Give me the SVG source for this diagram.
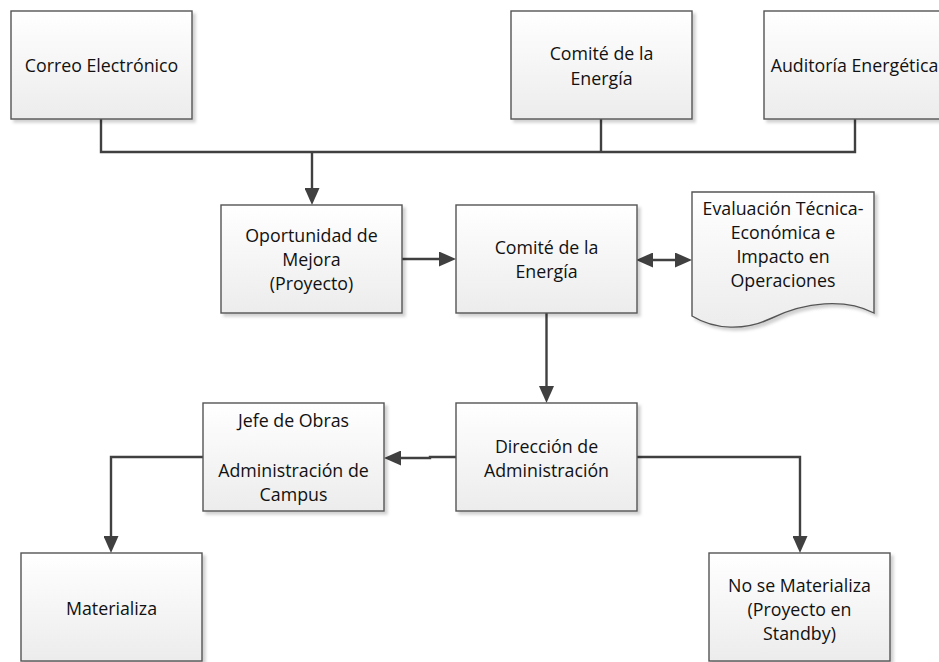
<svg xmlns="http://www.w3.org/2000/svg" width="939" height="662" viewBox="0 0 939 662">
<style>
.box{fill:url(#g);stroke:#555;stroke-width:1.4;filter:url(#sh)}
.t{font-family:"Open Sans","Liberation Sans",sans-serif;font-size:17.8px;fill:#111;text-anchor:middle}
.c{fill:none;stroke:#404040;stroke-width:2.4}
</style>
<defs>
<linearGradient id="g" x1="0" y1="0" x2="0" y2="1">
<stop offset="0" stop-color="#ffffff"/>
<stop offset="1" stop-color="#ececec"/>
</linearGradient>
<filter id="sh" x="-10%" y="-10%" width="130%" height="130%">
<feDropShadow dx="3" dy="3" stdDeviation="1.5" flood-color="#000" flood-opacity="0.18"/>
</filter>
<marker id="a" markerUnits="userSpaceOnUse" markerWidth="17" markerHeight="15" viewBox="0 0 17 15" refX="9" refY="7.5" orient="auto">
<path d="M0,0 L17,7.5 L0,15 z" fill="#404040"/>
</marker>
<marker id="as" markerUnits="userSpaceOnUse" markerWidth="17" markerHeight="15" viewBox="0 0 17 15" refX="8" refY="7.5" orient="auto-start-reverse">
<path d="M0,0 L17,7.5 L0,15 z" fill="#404040"/>
</marker>
</defs>
<rect width="939" height="662" fill="#fff"/>
<g id="connectors">
<polyline class="c" points="101,119 101,152 855,152 855,119"/>
<line class="c" x1="601" y1="119" x2="601" y2="152"/>
<line class="c" x1="312" y1="152" x2="312" y2="197" marker-end="url(#a)"/>
<line class="c" x1="402" y1="259" x2="448" y2="259" marker-end="url(#a)"/>
<line class="c" x1="645" y1="260" x2="684" y2="260" marker-start="url(#as)" marker-end="url(#a)"/>
<line class="c" x1="546.5" y1="313" x2="546.5" y2="395" marker-end="url(#a)"/>
<polyline class="c" points="456,457 430,457 430,458 392,458" marker-end="url(#a)"/>
<polyline class="c" points="203,457 111,457 111,545" marker-end="url(#a)"/>
<polyline class="c" points="637,457 800,457 800,545" marker-end="url(#a)"/>
</g>
<g id="correo">
<rect class="box" x="11" y="11" width="181" height="108"/>
<text class="t" x="101.5" y="72">Correo Electrónico</text>
</g>
<g id="comite-top">
<rect class="box" x="511" y="11" width="181" height="108"/>
<text class="t" x="601.5" y="60">Comité de la</text>
<text class="t" x="601.5" y="84.5">Energía</text>
</g>
<g id="auditoria">
<rect class="box" x="764" y="11" width="181" height="108"/>
<text class="t" x="854.5" y="72">Auditoría Energética</text>
</g>
<g id="oportunidad">
<rect class="box" x="221" y="205" width="181" height="108"/>
<text class="t" x="311.5" y="242">Oportunidad de</text>
<text class="t" x="311.5" y="266">Mejora</text>
<text class="t" x="311.5" y="290">(Proyecto)</text>
</g>
<g id="comite-mid">
<rect class="box" x="456" y="205" width="181" height="108"/>
<text class="t" x="546.5" y="254">Comité de la</text>
<text class="t" x="546.5" y="278">Energía</text>
</g>
<g id="evaluacion">
<path class="box" d="M692,192 H874 V313 C845,298 805,302 772,318 C745,331 715,330 692,316 Z"/>
<text class="t" x="783" y="215">Evaluación Técnica-</text>
<text class="t" x="783" y="239">Económica e</text>
<text class="t" x="783" y="263">Impacto en</text>
<text class="t" x="783" y="287">Operaciones</text>
</g>
<g id="direccion">
<rect class="box" x="456" y="403" width="181" height="108"/>
<text class="t" x="546.5" y="453">Dirección de</text>
<text class="t" x="546.5" y="477">Administración</text>
</g>
<g id="jefe">
<rect class="box" x="203" y="403" width="181" height="108"/>
<text class="t" x="293.5" y="427">Jefe de Obras</text>
<text class="t" x="293.5" y="477">Administración de</text>
<text class="t" x="293.5" y="501">Campus</text>
</g>
<g id="materializa">
<rect class="box" x="21" y="553" width="181" height="108"/>
<text class="t" x="111.5" y="615">Materializa</text>
</g>
<g id="no-materializa">
<rect class="box" x="709" y="553" width="181" height="108"/>
<text class="t" x="799.5" y="592">No se Materializa</text>
<text class="t" x="799.5" y="616">(Proyecto en</text>
<text class="t" x="799.5" y="640">Standby)</text>
</g>
</svg>
